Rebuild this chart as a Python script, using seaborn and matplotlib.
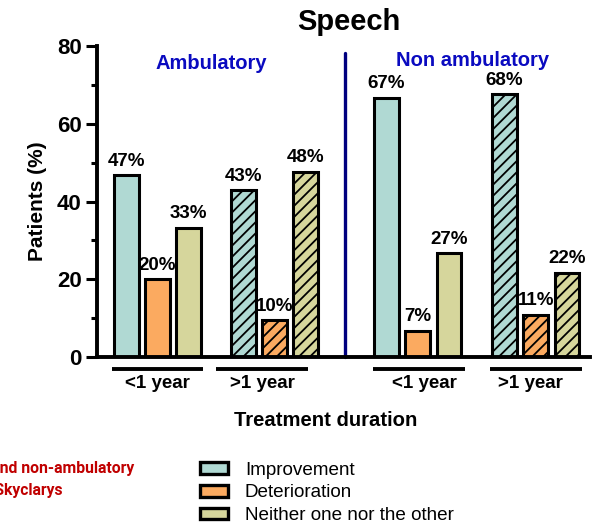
import numpy as np
import pandas as pd
import matplotlib
matplotlib.use("Agg")
import matplotlib.pyplot as plt
from matplotlib.patches import Patch
from matplotlib.ticker import MultipleLocator
import seaborn as sns

# Data
groups = ["Ambulatory <1 year", "Ambulatory >1 year", "Non ambulatory <1 year", "Non ambulatory >1 year"]
group_pos = [0.0, 1.0, 2.226, 3.235]
durations = ["<1 year", ">1 year", "<1 year", ">1 year"]
outcomes = ["Improvement", "Deterioration", "Neither one nor the other"]
improvement = [46.7, 42.9, 66.7, 67.6]
deterioration = [20.0, 9.5, 6.7, 10.8]
neither = [33.3, 47.6, 26.7, 21.6]
colors = ["#B0D9D3", "#FBAA60", "#D6D69C"]

sns.set_style("ticks", {"axes.edgecolor": "black", "text.color": "black",
                        "axes.labelcolor": "black", "xtick.color": "black",
                        "ytick.color": "black"})
plt.rcParams["font.family"] = ["Liberation Sans", "DejaVu Sans"]
plt.rcParams["hatch.linewidth"] = 1.3

df = pd.DataFrame({
    "pos": np.repeat(group_pos, 3),
    "duration": np.repeat(durations, 3),
    "outcome": outcomes * 4,
    "value": np.ravel(np.column_stack([improvement, deterioration, neither])),
})

fig = plt.figure(figsize=(5.97, 5.26), dpi=100)
ax = fig.add_axes([0.1625, 0.3213, 0.8255, 0.5912])

sns.barplot(data=df, x="pos", y="value", hue="outcome", hue_order=outcomes,
            palette=colors, saturation=1, native_scale=True, gap=0.2, legend=False,
            edgecolor="black", linewidth=2.2, errorbar=None, ax=ax)

# hatch the >1 year bars and add the percentage labels
for p in ax.patches:
    xc = p.get_x() + p.get_width() / 2
    gi = int(np.argmin(np.abs(np.array(group_pos) - xc)))
    if durations[gi] == ">1 year":
        p.set_hatch("///")
    h = p.get_height()
    ax.annotate(f"{round(h)}%", (xc, h), xytext=(0, 4), textcoords="offset points",
                ha="center", va="bottom", fontsize=13.5, fontweight="bold")

ax.set_xlim(-0.517, 3.697)
ax.set_ylim(0, 80)
ax.set_yticks([0, 20, 40, 60, 80])
ax.yaxis.set_minor_locator(MultipleLocator(10))
ax.tick_params(axis="y", which="major", length=8, width=2.2, labelsize=16, pad=3)
ax.tick_params(axis="y", which="minor", length=4, width=2.2)
for lab in ax.get_yticklabels():
    lab.set_fontweight("bold")
ax.set_xticks([])
ax.set_xlabel("")
ax.set_ylabel("Patients (%)", fontsize=15, fontweight="bold", labelpad=7)
for s in ["left", "bottom"]:
    ax.spines[s].set_linewidth(2.8)
sns.despine(ax=ax)

# divider between ambulatory and non ambulatory
ax.plot([1.603, 1.603], [0, 78.2], color="#00007F", lw=2.4, clip_on=False)
ax.text(0.457, 75.5, "Ambulatory", color="#0A0AC0", fontsize=14.5, fontweight="bold",
        ha="center", va="center")
ax.text(2.697, 76.4, "Non ambulatory", color="#0A0AC0", fontsize=14.5, fontweight="bold",
        ha="center", va="center")

# duration labels under the axis
trans = ax.get_xaxis_transform()
line_shift = [0.0, -0.107, 0.009, 0.0]
text_shift = [0.0, -0.1, 0.06, -0.045]
for gp, d, ls, ts in zip(group_pos, durations, line_shift, text_shift):
    ax.plot([gp + ls - 0.393, gp + ls + 0.393], [-0.0386, -0.0386], color="black",
            lw=2.8, transform=trans, clip_on=False, solid_capstyle="butt")
    ax.text(gp + ts, -0.084, d, transform=trans, ha="center", va="center",
            fontsize=13.5, fontweight="bold")

fig.text(0.546, 0.2015, "Treatment duration", ha="center", va="center",
         fontsize=14.6, fontweight="bold")
fig.suptitle("Speech", x=0.585, y=0.985, va="top", fontsize=21, fontweight="bold")

# caption text clipped at the left edge, as in the source image
fig.text(0.2245, 0.1084, "Ambulatory and non-ambulatory", ha="right", va="center",
         color="#C00000", fontsize=11.3, fontweight="bold", family=["Roboto", "DejaVu Sans"])
fig.text(0.1055, 0.0684, "treated with Skyclarys", ha="right", va="center",
         color="#C00000", fontsize=11.3, fontweight="bold", family=["Roboto", "DejaVu Sans"])

handles = [Patch(facecolor=c, edgecolor="black", linewidth=2.4) for c in colors]
fig.legend(handles, outcomes, loc="upper left", bbox_to_anchor=(0.335, 0.122),
           frameon=False, fontsize=13.6, handlelength=1.48, handleheight=0.55,
           handletextpad=0.9, labelspacing=0.3, borderpad=0, borderaxespad=0)

fig.savefig("out.png", dpi=100)
